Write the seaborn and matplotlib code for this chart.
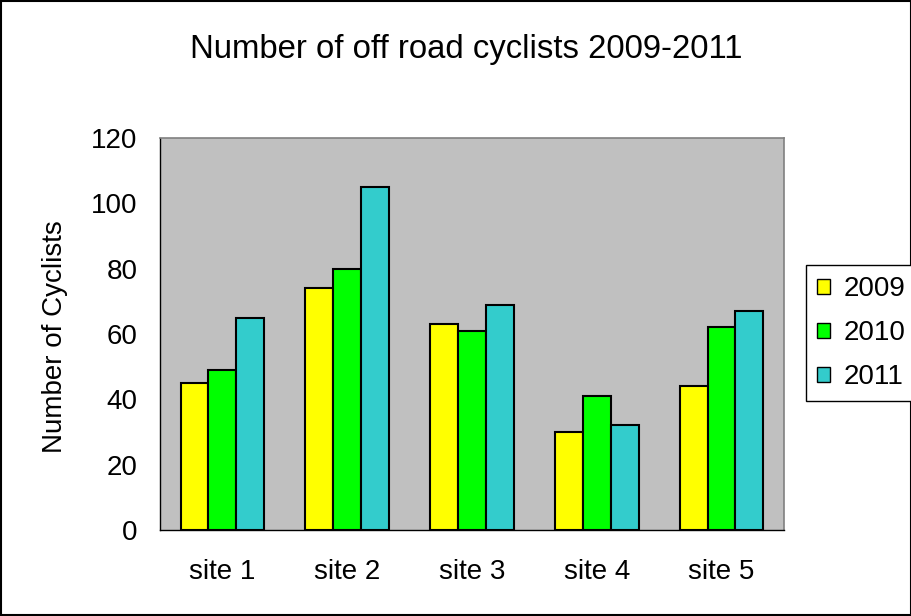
import pandas as pd
import numpy as np
import matplotlib.pyplot as plt
import seaborn as sns
from matplotlib.patches import Rectangle

sites = ["site 1", "site 2", "site 3", "site 4", "site 5"]
years = ["2009", "2010", "2011"]
v2009 = [45, 74, 63, 30, 44]
v2010 = [49, 80, 61, 41, 62]
v2011 = [65, 105, 69, 32, 67]
colors = ["#FFFF00", "#00FF00", "#33CCCC"]

df = pd.DataFrame({"site": sites * 3,
                   "year": [y for y in years for _ in sites],
                   "count": v2009 + v2010 + v2011})

sns.set_style("white")
plt.rcParams['font.family'] = ['Liberation Sans', 'DejaVu Sans']
plt.rcParams['text.color'] = 'black'
plt.rcParams['xtick.color'] = 'black'
plt.rcParams['ytick.color'] = 'black'
plt.rcParams['axes.labelcolor'] = 'black'

fig = plt.figure(figsize=(9.12, 6.16), dpi=100)
ax = fig.add_axes([0.1754, 0.1396, 0.6842, 0.6364])
sns.barplot(x="site", y="count", hue="year", data=df, palette=colors, saturation=1,
            width=0.67, edgecolor="black", linewidth=1.5, ax=ax, legend=False)
ax.set_facecolor("#C0C0C0")
ax.set_ylim(0, 120)
ax.set_xlim(-0.5, 4.5)
ax.set_yticks(range(0, 121, 20))
ax.set_xticks(np.arange(-0.5, 5, 1))
ax.set_xticklabels([])
ax.set_xticks(range(5), minor=True)
ax.set_xticklabels(sites, minor=True, fontsize=20)
ax.tick_params(axis="x", which="minor", length=0, pad=21)
ax.tick_params(axis="x", which="major", length=8, width=1)
ax.tick_params(axis="y", length=8, width=1, labelsize=20, pad=8)
ax.set_xlabel("")
ax.set_ylabel("Number of Cyclists", fontsize=20)
ax.yaxis.set_label_coords(-0.147, 0.494)
for s in ["top", "right"]:
    ax.spines[s].set_color("#808080")
    ax.spines[s].set_linewidth(1.2)
for s in ["left", "bottom"]:
    ax.spines[s].set_color("black")
    ax.spines[s].set_linewidth(1)

fig.text(0.511, 0.919, "Number of off road cyclists 2009-2011", ha="center",
         va="center", fontsize=23.7)

handles = [Rectangle((0, 0), 1, 1, facecolor=c, edgecolor="black", linewidth=1)
           for c in colors]
leg = fig.legend(handles, years, loc="upper left", bbox_to_anchor=(0.8838, 0.5698),
                 fontsize=20, handlelength=0.45, handleheight=0.45, handletextpad=0.5,
                 labelspacing=0.65, borderpad=0.4, borderaxespad=0, fancybox=False,
                 framealpha=1)
leg.get_frame().set_edgecolor("black")
leg.get_frame().set_linewidth(1)

fig.patches.append(Rectangle((0.001, 0.001), 0.998, 0.998, transform=fig.transFigure,
                             fill=False, edgecolor="black", linewidth=1.5))
fig.savefig("out.png", dpi=100)
